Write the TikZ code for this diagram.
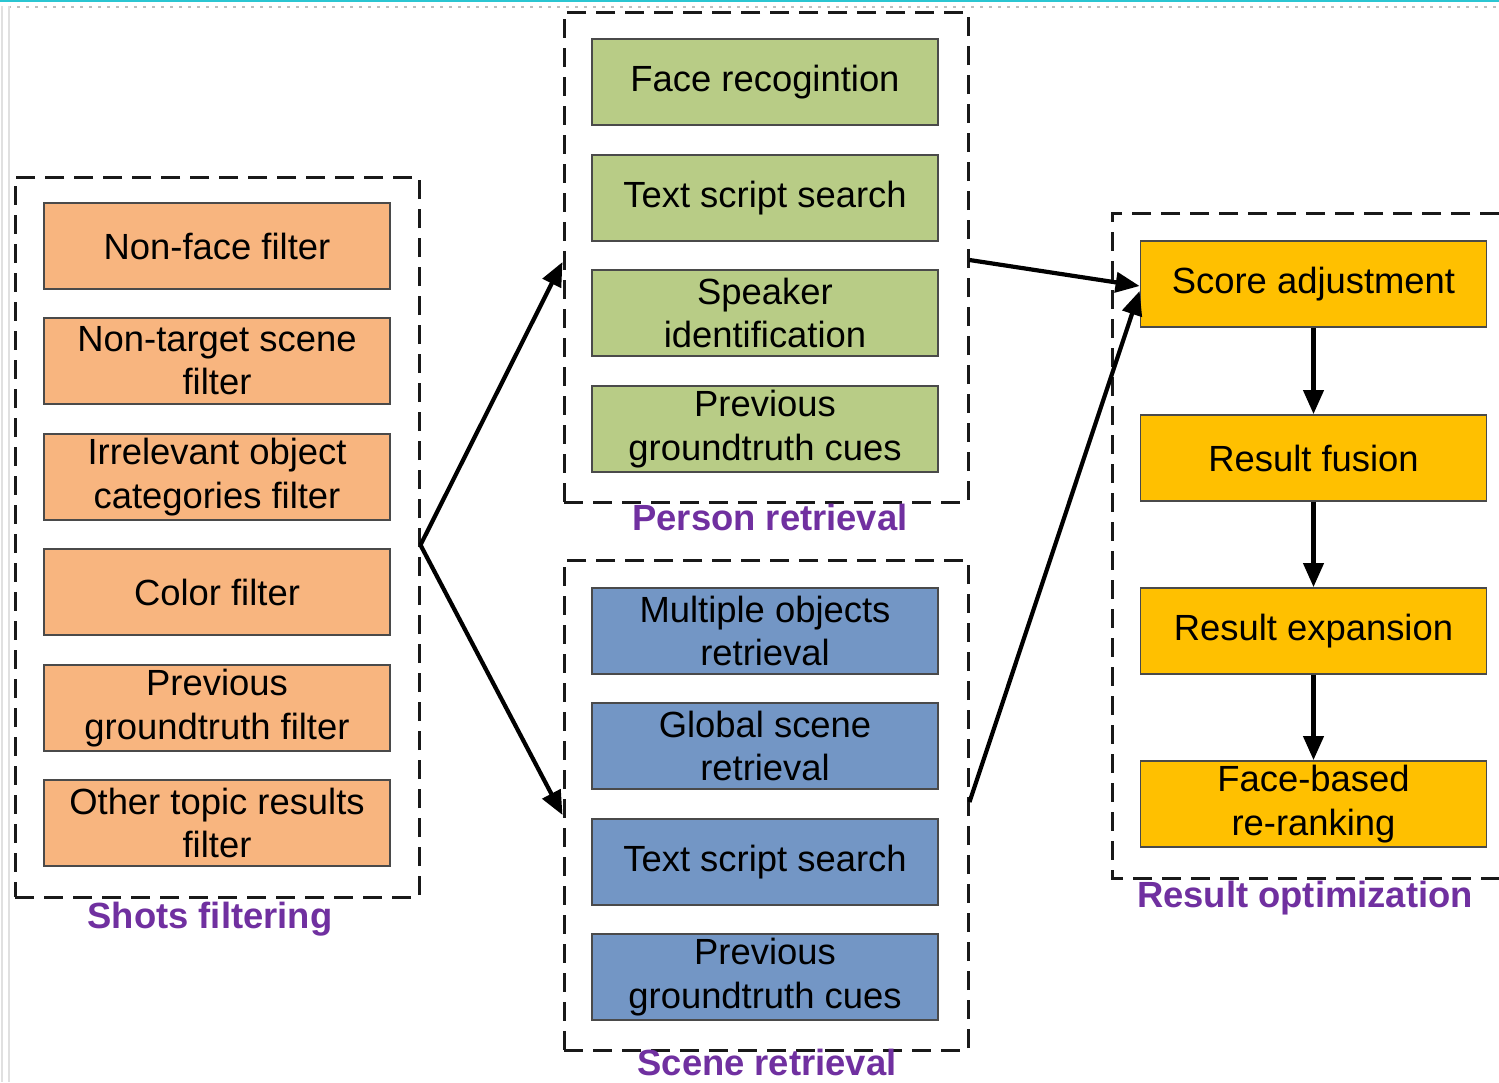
\documentclass[tikz,border=0pt]{standalone}
\usepackage{fontspec}
\setmainfont{Liberation Sans}
\usetikzlibrary{arrows.meta}
\definecolor{orangefill}{HTML}{F8B57F}
\definecolor{greenfill}{HTML}{B8CC86}
\definecolor{bluefill}{HTML}{7396C5}
\definecolor{yellowfill}{HTML}{FFC000}
\definecolor{labelpurple}{HTML}{7030A0}
\definecolor{boxedge}{HTML}{4A4A4A}
\definecolor{topbar}{HTML}{2AC6D2}
\begin{document}
\begin{tikzpicture}[x=0.5pt,y=-0.5pt,
  stepbox/.style={draw=boxedge,line width=0.9pt,minimum width=173pt,minimum height=43pt,
    inner sep=0pt,align=center,font=\fontsize{18.2}{21.6}\selectfont},
  filterbox/.style={stepbox,fill=orangefill},
  personbox/.style={stepbox,fill=greenfill},
  scenebox/.style={stepbox,fill=bluefill},
  optbox/.style={stepbox,fill=yellowfill},
  groupline/.style={draw=black!90,line width=1.5pt,dash pattern=on 9.5pt off 5pt},
  group/.style={groupline,inner sep=0pt},
  grouplabel/.style={text=labelpurple,font=\fontsize{18.2}{21.6}\selectfont\bfseries},
  flow/.style={line width=2.1pt,-{Triangle[length=12pt,width=10pt]}}]
\useasboundingbox (0,0) rectangle (1499,1082);

% window frame lines
\draw[topbar,line width=1.2pt] (0,1) -- (1499,1);
\draw[black!25,line width=0.6pt,dash pattern=on 1.5pt off 3pt] (8,7) -- (1499,7);
\draw[black!12,line width=0.8pt] (2,6) -- (2,1082);
\draw[black!12,line width=0.8pt] (9,6) -- (9,1082);

% dashed group frames
\node[group,minimum width=202pt,minimum height=360pt] (shots) at (217,537) {};
\node[group,minimum width=202pt,minimum height=245pt] (person) at (766,257) {};
\node[group,minimum width=202pt,minimum height=245pt] (scene) at (766,805) {};
\draw[groupline] (1499,213) -- (1112,213) -- (1112,878) -- (1499,878);

% shots filtering
\node[filterbox] (f1) at (217,246) {Non-face filter};
\node[filterbox] (f2) at (217,361) {Non-target scene\\filter};
\node[filterbox] (f3) at (217,477) {Irrelevant object\\categories filter};
\node[filterbox] (f4) at (217,592) {Color filter};
\node[filterbox] (f5) at (217,708) {Previous\\groundtruth filter};
\node[filterbox] (f6) at (217,823) {Other topic results\\filter};
\node[grouplabel] (l1) at (210,919) {Shots filtering};

% person retrieval
\node[personbox] (p1) at (765,82) {Face recogintion};
\node[personbox] (p2) at (765,198) {Text script search};
\node[personbox] (p3) at (765,313) {Speaker\\identification};
\node[personbox] (p4) at (765,429) {Previous\\groundtruth cues};
\node[grouplabel] (l2) at (770,517) {Person retrieval};

% scene retrieval
\node[scenebox] (s1) at (765,631) {Multiple objects\\retrieval};
\node[scenebox] (s2) at (765,746) {Global scene\\retrieval};
\node[scenebox] (s3) at (765,862) {Text script search};
\node[scenebox] (s4) at (765,977) {Previous\\groundtruth cues};
\node[grouplabel] (l3) at (767,1062) {Scene retrieval};

% result optimization
\node[optbox] (r1) at (1313.5,284) {Score adjustment};
\node[optbox] (r2) at (1313.5,458) {Result fusion};
\node[optbox] (r3) at (1313.5,631) {Result expansion};
\node[optbox] (r4) at (1313.5,804) {Face-based\\re-ranking};
\node[grouplabel] (l4) at (1305,898) {Result optimization};

% connectors
\coordinate (fork) at ([yshift=-4pt]shots.east);
\draw[flow] (fork) -- ([yshift=-2.5pt]person.west);
\draw[flow] (fork) -- ([yshift=-5pt]scene.west);
\draw[flow] ([yshift=-1.5pt]person.east) -- ([yshift=-1pt]r1.west);
\draw[flow] ([yshift=1.5pt]scene.east) -- ([yshift=-3.5pt]r1.west);
\draw[flow] (r1) -- (r2);
\draw[flow] (r2) -- (r3);
\draw[flow] (r3) -- (r4);
\end{tikzpicture}
\end{document}
